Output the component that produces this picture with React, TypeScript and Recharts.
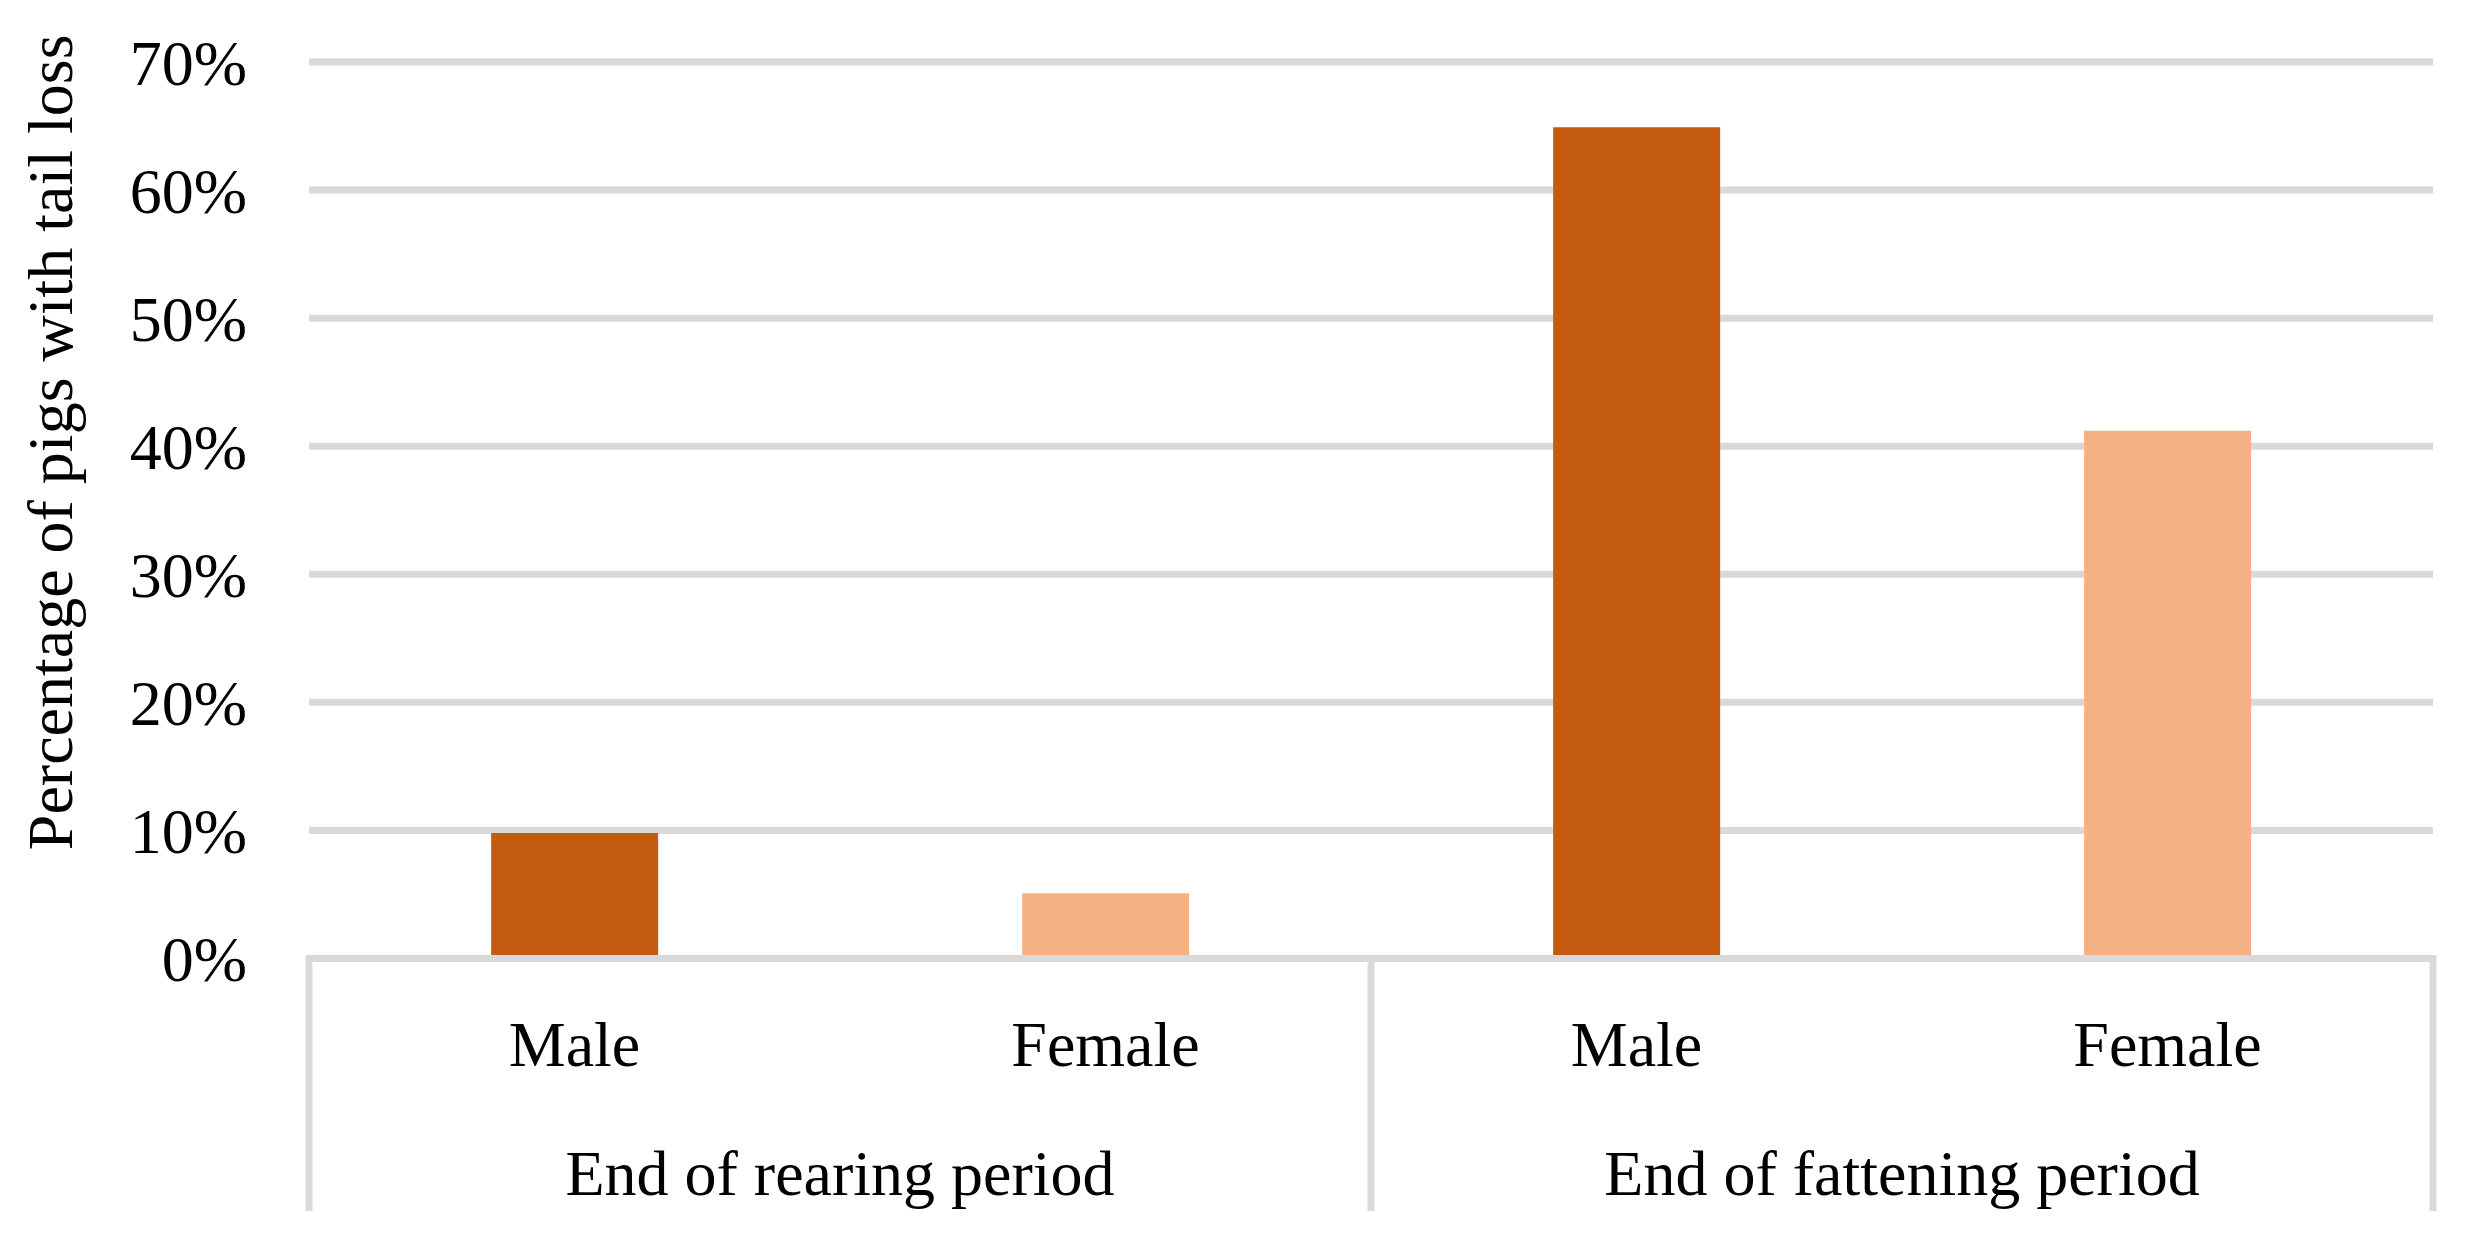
import { Bar, BarChart, CartesianGrid, Cell, XAxis, YAxis } from 'recharts';

const PERIODS = ['End of rearing period', 'End of fattening period'];
const SEXES = ['Male', 'Female'];
const MALE_LOSS = [9.8, 64.9];
const FEMALE_LOSS = [5.1, 41.2];
const Y_TICKS = [0, 10, 20, 30, 40, 50, 60, 70];
const Y_TITLE = 'Percentage of pigs with tail loss';

const data = PERIODS.flatMap((period, i) => [
  { period, sex: SEXES[0], value: MALE_LOSS[i] },
  { period, sex: SEXES[1], value: FEMALE_LOSS[i] },
]);

const SEX_COLORS: Record<string, string> = { Male: '#C55A11', Female: '#F4B183' };

const WIDTH = 2455;
const HEIGHT = 1221;
const MARGIN = { top: 54, right: 30, bottom: 0, left: 0 };
const Y_AXIS_WIDTH = 301;
const SEX_AXIS_HEIGHT = 130;
const GROUP_AXIS_HEIGHT = HEIGHT - MARGIN.top - 896.5 - SEX_AXIS_HEIGHT;
const PLOT_WIDTH = WIDTH - MARGIN.left - MARGIN.right - Y_AXIS_WIDTH;
const GRID = '#D9D9D9';
const LINE_W = 7;
const FONT = '"Liberation Serif", "Times New Roman", serif';
const FONT_SIZE = 64;

function SexTick({ x, y, payload }: any) {
  return (
    <text x={x} y={y + 107.5} textAnchor="middle" fontSize={FONT_SIZE} fontFamily={FONT} fill="#000">
      {payload.value}
    </text>
  );
}

function GroupTick({ x, y, payload, index }: any) {
  const half = PLOT_WIDTH / (PERIODS.length * 2);
  const top = y - SEX_AXIS_HEIGHT - LINE_W / 2;
  const bottom = y + 122.5;
  return (
    <g>
      <line x1={x - half} x2={x - half} y1={top} y2={bottom} stroke={GRID} strokeWidth={LINE_W} />
      {index === PERIODS.length - 1 && (
        <line x1={x + half} x2={x + half} y1={top} y2={bottom} stroke={GRID} strokeWidth={LINE_W} />
      )}
      <text x={x} y={y + 106} textAnchor="middle" fontSize={FONT_SIZE} fontFamily={FONT} fill="#000">
        {payload.value}
      </text>
    </g>
  );
}

function YTitle({ viewBox }: any) {
  const cx = viewBox.x + 64;
  const cy = viewBox.y + viewBox.height / 2 - 68;
  return (
    <text
      x={cx}
      y={cy}
      transform={`rotate(-90 ${cx} ${cy})`}
      textAnchor="middle"
      fontSize={FONT_SIZE}
      fontFamily={FONT}
      fill="#000"
    >
      {Y_TITLE}
    </text>
  );
}

export default function App() {
  return (
    <div style={{ width: WIDTH, height: HEIGHT, background: '#fff' }}>
      <BarChart width={WIDTH} height={HEIGHT} data={data} margin={MARGIN} barCategoryGap="34.3%">
        <CartesianGrid xAxisId={0} vertical={false} stroke={GRID} strokeWidth={LINE_W} />
        <YAxis
          width={Y_AXIS_WIDTH}
          domain={[0, 70]}
          ticks={Y_TICKS}
          tickFormatter={(v: number) => `${v}%`}
          axisLine={false}
          tickLine={false}
          tickSize={0}
          tickMargin={62}
          tick={{ fill: '#000', fontSize: FONT_SIZE, fontFamily: FONT }}
          label={(props: any) => <YTitle {...props} />}
        />
        <Bar xAxisId={0} dataKey="value" isAnimationActive={false}>
          {data.map((d, i) => (
            <Cell key={i} fill={SEX_COLORS[d.sex]} />
          ))}
        </Bar>
        <XAxis
          xAxisId={0}
          dataKey="sex"
          height={SEX_AXIS_HEIGHT}
          interval={0}
          axisLine={{ stroke: GRID, strokeWidth: LINE_W }}
          tickLine={false}
          tickSize={0}
          tickMargin={0}
          tick={<SexTick />}
        />
        <XAxis
          xAxisId={1}
          dataKey="period"
          allowDuplicatedCategory={false}
          height={GROUP_AXIS_HEIGHT}
          interval={0}
          axisLine={false}
          tickLine={false}
          tickSize={0}
          tickMargin={0}
          tick={<GroupTick />}
        />
      </BarChart>
    </div>
  );
}
